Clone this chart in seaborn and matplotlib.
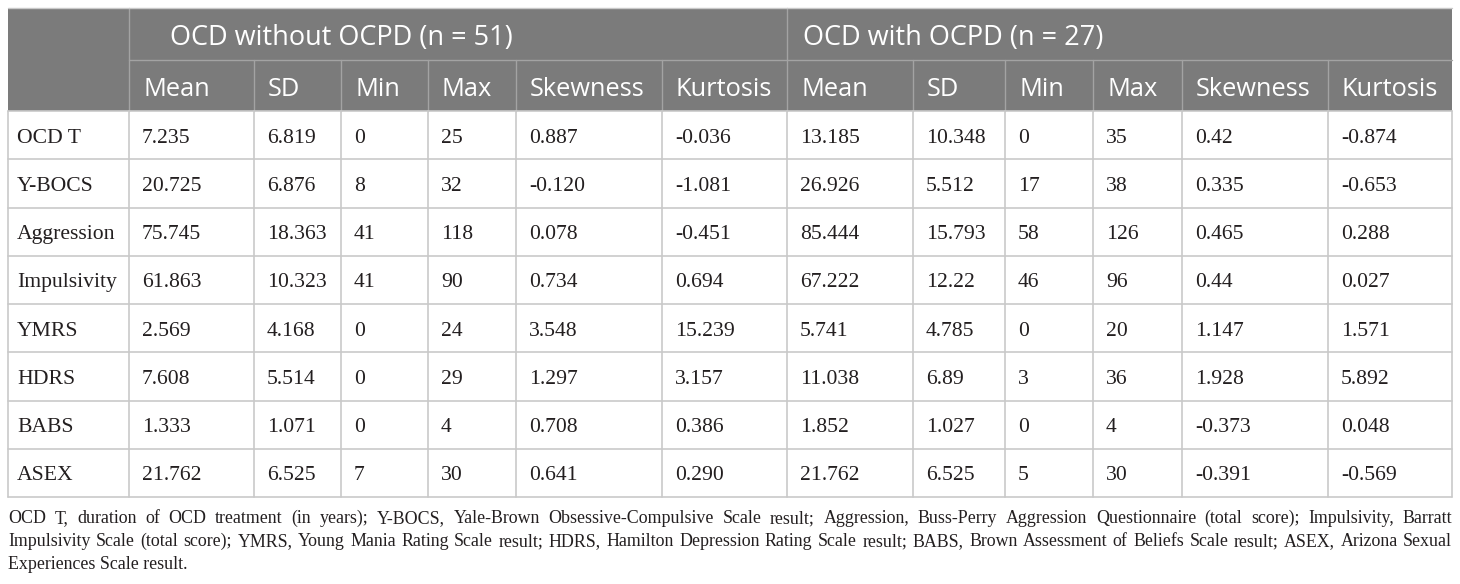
import matplotlib
matplotlib.use("Agg")
import matplotlib.pyplot as plt
import seaborn as sns
from matplotlib.patches import Rectangle

# ---------------- data ----------------
group_labels = ["OCD without OCPD (n = 51)", "OCD with OCPD (n = 27)"]
stat_labels = ["Mean", "SD", "Min", "Max", "Skewness", "Kurtosis"]
variables = ["OCD T", "Y-BOCS", "Aggression", "Impulsivity", "YMRS", "HDRS", "BABS", "ASEX"]

wo_mean = ["7.235", "20.725", "75.745", "61.863", "2.569", "7.608", "1.333", "21.762"]
wo_sd = ["6.819", "6.876", "18.363", "10.323", "4.168", "5.514", "1.071", "6.525"]
wo_min = ["0", "8", "41", "41", "0", "0", "0", "7"]
wo_max = ["25", "32", "118", "90", "24", "29", "4", "30"]
wo_skew = ["0.887", "-0.120", "0.078", "0.734", "3.548", "1.297", "0.708", "0.641"]
wo_kurt = ["-0.036", "-1.081", "-0.451", "0.694", "15.239", "3.157", "0.386", "0.290"]

w_mean = ["13.185", "26.926", "85.444", "67.222", "5.741", "11.038", "1.852", "21.762"]
w_sd = ["10.348", "5.512", "15.793", "12.22", "4.785", "6.89", "1.027", "6.525"]
w_min = ["0", "17", "58", "46", "0", "3", "0", "5"]
w_max = ["35", "38", "126", "96", "20", "36", "4", "30"]
w_skew = ["0.42", "0.335", "0.465", "0.44", "1.147", "1.928", "-0.373", "-0.391"]
w_kurt = ["-0.874", "-0.653", "0.288", "0.027", "1.571", "5.892", "0.048", "-0.569"]

footnote_lines = [
    "OCD T, duration of OCD treatment (in years); Y-BOCS, Yale-Brown Obsessive-Compulsive Scale result; Aggression, Buss-Perry Aggression Questionnaire (total score); Impulsivity, Barratt",
    "Impulsivity Scale (total score); YMRS, Young Mania Rating Scale result; HDRS, Hamilton Depression Rating Scale result; BABS, Brown Assessment of Beliefs Scale result; ASEX, Arizona Sexual",
    "Experiences Scale result.",
]

columns = [wo_mean, wo_sd, wo_min, wo_max, wo_skew, wo_kurt,
           w_mean, w_sd, w_min, w_max, w_skew, w_kurt]

# ---------------- layout ----------------
W, H = 1460, 584
col_edges = [8, 129, 254, 341, 428, 516, 662, 787, 913, 1005, 1093, 1182, 1328, 1452]
top = 8
h1_bot = 60
h2_bot = 111
row_h = (497 - 111) / 8.0

header_bg = "#7b7b7b"
header_line = "#a3a3a3"
grid_col = "#c9c9c9"
text_col = "#231f20"

sns.set_theme(style="white")
plt.rcParams["font.family"] = ["Open Sans", "DejaVu Sans"]

fig = plt.figure(figsize=(W / 100, H / 100), dpi=100)
ax = fig.add_axes([0, 0, 1, 1])
ax.set_xlim(0, W)
ax.set_ylim(H, 0)
ax.axis("off")

# header backgrounds
ax.add_patch(Rectangle((col_edges[0], top), col_edges[-1] - col_edges[0], h2_bot - top,
                       facecolor=header_bg, edgecolor="none", zorder=1))

# header grid lines
ax.plot([col_edges[1], col_edges[-1]], [h1_bot, h1_bot], color=header_line, lw=1, zorder=2)
ax.plot([col_edges[1], col_edges[1]], [top, h2_bot], color=header_line, lw=1, zorder=2)
ax.plot([col_edges[7], col_edges[7]], [top, h2_bot], color=header_line, lw=1, zorder=2)
for x in col_edges[2:-1]:
    if x != col_edges[7]:
        ax.plot([x, x], [h1_bot, h2_bot], color=header_line, lw=1, zorder=2)

# body grid
n_rows = len(variables)
body_bot = h2_bot + row_h * n_rows
for i in range(n_rows + 1):
    y = h2_bot + row_h * i
    ax.plot([col_edges[0], col_edges[-1]], [y, y], color=grid_col, lw=1.2, zorder=2)
for x in col_edges:
    ax.plot([x, x], [h2_bot, body_bot], color=grid_col, lw=1.2, zorder=2)
ax.plot([col_edges[0], col_edges[-1]], [top, top], color=grid_col, lw=1, zorder=3)

sans = ["Open Sans", "DejaVu Sans"]
serif = ["Liberation Serif", "DejaVu Serif"]

# header text
ax.text(col_edges[1] + 41, 45, group_labels[0], color="white", fontsize=19.5,
        family=sans, va="baseline", ha="left", zorder=4)
ax.text(col_edges[7] + 16, 45, group_labels[1], color="white", fontsize=19.5,
        family=sans, va="baseline", ha="left", zorder=4)
for j in range(12):
    ax.text(col_edges[j + 1] + 14, 96, stat_labels[j % 6], color="white", fontsize=18.3,
            family=sans, va="baseline", ha="left", zorder=4)

# body text
for i, var in enumerate(variables):
    base = h2_bot + row_h * (i + 0.5) + 7.5
    ax.text(col_edges[0] + 9, base, var, color=text_col, fontsize=15.6,
            family=serif, va="baseline", ha="left", zorder=4)
    for j, col in enumerate(columns):
        ax.text(col_edges[j + 1] + 13, base, col[i], color=text_col, fontsize=15.6,
                family=serif, va="baseline", ha="left", zorder=4)

# footnote (justified lines)
fig.canvas.draw()
renderer = fig.canvas.get_renderer()
left, right = col_edges[0], col_edges[-1]
baselines = [523, 546, 569]
fs = 14.0
probe_w = []
for line in footnote_lines[:-1]:
    t = ax.text(0, 0, line, fontsize=fs, family=serif)
    probe_w.append(t.get_window_extent(renderer).width)
    t.remove()
scale = (right - left) / max(probe_w)
if scale < 1:
    fs = fs * scale * 0.985

for k, line in enumerate(footnote_lines):
    words = line.split(" ")
    justify = k < len(footnote_lines) - 1
    if not justify:
        ax.text(left, baselines[k], line, fontsize=fs, family=serif, color=text_col,
                va="baseline", ha="left")
        continue
    texts = [ax.text(0, baselines[k], w, fontsize=fs, family=serif, color=text_col,
                     va="baseline", ha="left") for w in words]
    widths = [t.get_window_extent(renderer).width for t in texts]
    gap = (right - left - sum(widths)) / (len(words) - 1)
    x = left
    for t, w in zip(texts, widths):
        t.set_x(x)
        x += w + gap

fig.savefig("out.png", dpi=100)
